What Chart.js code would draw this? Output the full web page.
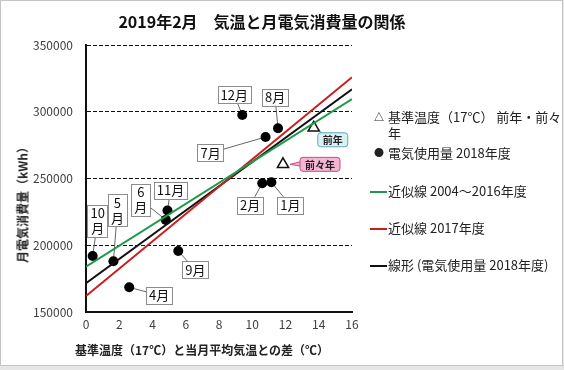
<!DOCTYPE html>
<html>
<head>
<meta charset="utf-8">
<script src="https://cdn.jsdelivr.net/npm/chart.js@4.4.0/dist/chart.umd.min.js"></script>
<style>
  body { margin: 0; background: #e6e6e6; font-family: "Noto Sans CJK JP", sans-serif; }
  #wrap { position: relative; width: 564px; height: 370px; }
  #frame { position: absolute; left: 0; top: 0; width: 561px; height: 364px; border: 1px solid #c4c4c4; background: #fff; }
  canvas { position: absolute; left: 0; top: 0; }
  .txt { position: absolute; white-space: nowrap; color: #222; }
  #title { left: 262px; top: 9px; transform: translateX(-50%); font-size: 16px; font-weight: bold; color: #111; }
  #ytitle { left: 22px; top: 202px; transform: translate(-50%, -50%) rotate(-90deg); font-size: 12px; font-weight: bold; }
  #xtitle { left: 202px; top: 341px; transform: translateX(-50%); font-size: 12px; font-weight: bold; }
  .lg { position: absolute; left: 370px; font-size: 13px; color: #222; white-space: nowrap; line-height: 16px; }
  .lg .sym { display: inline-block; width: 18px; text-align: center; font-size: 10px; vertical-align: 1px; }
  .lg .ln { display: inline-block; width: 17px; height: 2px; vertical-align: middle; margin-right: 1px; }
</style>
</head>
<body>
<div id="wrap">
  <div id="frame"></div>
  <canvas id="chart" width="564" height="370"></canvas>
  <div id="title" class="txt">2019年2月　気温と月電気消費量の関係</div>
  <div id="ytitle" class="txt">月電気消費量（kWh）</div>
  <div id="xtitle" class="txt">基準温度（17℃）と当月平均気温との差（℃）</div>
  <div class="lg" style="top:109px"><span class="sym" style="font-weight:bold">△</span>基準温度（17℃） 前年・前々<br><span class="sym"></span>年</div>
  <div class="lg" style="top:145px"><span class="sym">●</span>電気使用量 2018年度</div>
  <div class="lg" style="top:183px"><span class="ln" style="background:#1f9a4a"></span>近似線 2004～2016年度</div>
  <div class="lg" style="top:220px"><span class="ln" style="background:#c81e1e"></span>近似線 2017年度</div>
  <div class="lg" style="top:257px"><span class="ln" style="background:#111"></span>線形 (電気使用量 2018年度)</div>
</div>
<script>
// --- データ ---
const months = ['4月', '5月', '6月', '7月', '8月', '9月', '10月', '11月', '12月', '1月', '2月'];
const tempDiff = [2.6, 1.65, 4.8, 10.8, 11.55, 5.55, 0.4, 4.9, 9.4, 11.15, 10.6];
const usage = [168500, 188000, 219000, 281100, 287600, 195700, 192000, 226000, 297600, 247200, 246400];

const baseLabels = ['前年', '前々年'];
const baseTemp = [13.7, 11.85];
const baseUsage = [288000, 260600];

const lineX = [0, 16];
const fit2004_2016 = [183900, 309500];
const fit2017 = [162000, 325800];
const fit2018 = [171500, 316800];

const xTicks = [0, 2, 4, 6, 8, 10, 12, 14, 16];
const yTicks = [150000, 200000, 250000, 300000, 350000];

// ラベルの置き場所 (点からのずれ, px)
const labelLayout = {
  '4月': { dx: 30, dy: 8 },
  '5月': { dx: 4, dy: -51, wrap: true },
  '6月': { dx: -25, dy: -20, wrap: true },
  '7月': { dx: -55, dy: 16 },
  '8月': { dx: -3, dy: -31 },
  '9月': { dx: 17, dy: 19 },
  '10月': { dx: 5, dy: -35, wrap: true },
  '11月': { dx: 3, dy: -20 },
  '12月': { dx: -8, dy: -20 },
  '1月': { dx: 19, dy: 23 },
  '2月': { dx: -12, dy: 22 }
};
const calloutLayout = {
  '前年': { dx: 19, dy: 12, fill: '#d9f1f4', stroke: '#5aaab8' },
  '前々年': { dx: 37, dy: 0, fill: '#f5b5d3', stroke: '#c0508a' }
};

const toPts = (xs, ys) => xs.map((x, i) => ({ x: x, y: ys[i] }));

function boxSize(ctx, lines, lh) {
  let w = 0;
  lines.forEach(l => { w = Math.max(w, ctx.measureText(l).width); });
  return { w: w + 6, h: lines.length * lh + 2 };
}

const labelPlugin = {
  id: 'monthLabels',
  beforeDatasetsDraw(chart) {
    const ctx = chart.ctx;
    const pts = chart.getDatasetMeta(4).data;
    ctx.save();
    ctx.strokeStyle = '#666';
    ctx.lineWidth = 1;
    months.forEach((m, i) => {
      const o = labelLayout[m];
      ctx.beginPath();
      ctx.moveTo(pts[i].x, pts[i].y);
      ctx.lineTo(pts[i].x + o.dx, pts[i].y + o.dy);
      ctx.stroke();
    });
    ctx.restore();
  },
  afterDatasetsDraw(chart) {
    const ctx = chart.ctx;
    ctx.save();
    // 月ラベル
    const pts = chart.getDatasetMeta(4).data;
    ctx.font = '13px "Noto Sans CJK JP"';
    ctx.textAlign = 'center';
    ctx.textBaseline = 'middle';
    months.forEach((m, i) => {
      const o = labelLayout[m];
      const lines = o.wrap ? [m.slice(0, -1), '月'] : [m];
      const s = boxSize(ctx, lines, 15);
      const cx = pts[i].x + o.dx, cy = pts[i].y + o.dy;
      ctx.fillStyle = '#fff';
      ctx.strokeStyle = '#8c8c8c';
      ctx.lineWidth = 1;
      ctx.fillRect(cx - s.w / 2, cy - s.h / 2, s.w, s.h);
      ctx.strokeRect(Math.round(cx - s.w / 2) + 0.5, Math.round(cy - s.h / 2) + 0.5, Math.round(s.w), Math.round(s.h));
      ctx.fillStyle = '#111';
      lines.forEach((l, k) => {
        ctx.fillText(l, cx, cy - s.h / 2 + 1 + 15 * k + 7.5);
      });
    });
    // 前年・前々年の吹き出し
    const tri = chart.getDatasetMeta(3).data;
    ctx.font = 'bold 10px "Noto Sans CJK JP"';
    baseLabels.forEach((b, i) => {
      const o = calloutLayout[b];
      const s = boxSize(ctx, [b], 12);
      s.w += 4;
      const cx = tri[i].x + o.dx, cy = tri[i].y + o.dy;
      const left = cx - s.w / 2, top = cy - s.h / 2;
      ctx.fillStyle = o.fill;
      ctx.strokeStyle = o.stroke;
      ctx.lineWidth = 1;
      ctx.beginPath();
      ctx.moveTo(tri[i].x + 7, tri[i].y + (o.dy > 4 ? 4 : 0));
      ctx.lineTo(left + 2, cy - 3);
      ctx.lineTo(left + 2, cy + 2);
      ctx.closePath();
      ctx.fill();
      ctx.stroke();
      ctx.beginPath();
      ctx.roundRect(left, top, s.w, s.h, 3);
      ctx.fill();
      ctx.stroke();
      ctx.fillStyle = '#222';
      ctx.fillText(b, cx, cy + 0.5);
    });
    ctx.restore();
  }
};

const lineDs = (label, ys, color) => ({
  type: 'line', label: label, data: toPts(lineX, ys),
  borderColor: color, borderWidth: 2, pointRadius: 0, fill: false, tension: 0
});

new Chart(document.getElementById('chart'), {
  type: 'scatter',
  data: {
    datasets: [
      lineDs('近似線 2004～2016年度', fit2004_2016, '#1f9a4a'),
      lineDs('近似線 2017年度', fit2017, '#c81e1e'),
      lineDs('線形 (電気使用量 2018年度)', fit2018, '#111'),
      {
        label: '基準温度（17℃） 前年・前々年', data: toPts(baseTemp, baseUsage),
        pointStyle: 'triangle', pointRadius: 6.5, backgroundColor: '#fff', borderColor: '#111', borderWidth: 1.5
      },
      {
        label: '電気使用量 2018年度', data: toPts(tempDiff, usage),
        pointStyle: 'circle', pointRadius: 5, backgroundColor: '#000', borderColor: '#000', borderWidth: 0
      }
    ]
  },
  options: {
    responsive: false,
    animation: false,
    layout: { padding: { left: 0, top: 45, right: 212, bottom: 0 } },
    plugins: { legend: { display: false }, title: { display: false }, tooltip: { enabled: false } },
    scales: {
      x: {
        type: 'linear', min: 0, max: 16,
        afterBuildTicks: (ax) => { ax.ticks = xTicks.map(v => ({ value: v })); },
        afterFit: (ax) => { ax.height = 58; },
        grid: { display: false, drawTicks: false },
        border: { display: true, color: '#111', width: 2 },
        ticks: { color: '#404040', font: { family: 'Noto Sans CJK JP', size: 12 }, padding: 5, maxRotation: 0 }
      },
      y: {
        type: 'linear', min: 150000, max: 350000,
        afterBuildTicks: (ax) => { ax.ticks = yTicks.map(v => ({ value: v })); },
        afterFit: (ax) => { ax.width = 86; },
        grid: { color: '#111', lineWidth: 1, drawTicks: false },
        border: { display: true, color: '#111', width: 2, dash: [4, 2] },
        ticks: { color: '#404040', font: { family: 'Noto Sans CJK JP', size: 12 }, padding: 13, callback: v => String(v) }
      }
    }
  },
  plugins: [labelPlugin]
});
</script>
</body>
</html>
